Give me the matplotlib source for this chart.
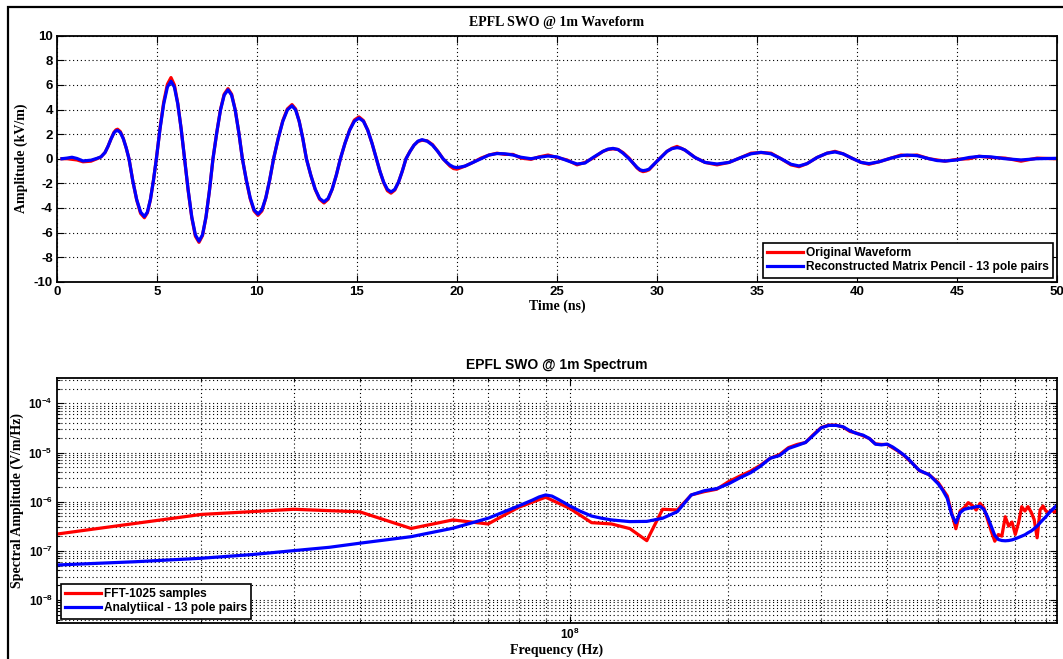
import numpy as np
import matplotlib
matplotlib.use("Agg")
import matplotlib.pyplot as plt
from matplotlib.patches import Rectangle
from matplotlib.ticker import LogLocator, NullFormatter

plt.rcParams["axes.unicode_minus"] = False
plt.rcParams["mathtext.fontset"] = "custom"
plt.rcParams["mathtext.rm"] = "Liberation Sans:bold"
plt.rcParams["mathtext.bf"] = "Liberation Sans:bold"
plt.rcParams["mathtext.it"] = "Liberation Sans:bold"

# ---- waveform (ns, kV/m) ----
t = [0.25, 0.5, 0.75, 1.0, 1.3, 1.7, 2.0, 2.2, 2.4, 2.55, 2.7, 2.85, 2.95,
     3.03, 3.17, 3.315, 3.46, 3.6, 3.79, 3.985, 4.18,
     4.37, 4.52, 4.67, 4.82, 4.97, 5.15, 5.335, 5.52,
     5.7, 5.87, 6.04, 6.21, 6.38, 6.56, 6.74, 6.92,
     7.1, 7.275, 7.45, 7.625, 7.8, 7.99, 8.175, 8.36,
     8.55, 8.73, 8.91, 9.09, 9.27, 9.465, 9.66, 9.855,
     10.05, 10.245, 10.44, 10.635, 10.83, 11.06, 11.29, 11.52,
     11.75, 11.93, 12.11, 12.29, 12.47, 12.69, 12.91, 13.13,
     13.35, 13.555, 13.76, 13.965, 14.17, 14.4, 14.635, 14.87,
     15.1, 15.32, 15.535, 15.75, 15.97, 16.15, 16.335, 16.52,
     16.7, 16.89, 17.075, 17.26, 17.45, 17.65, 17.85, 18.05,
     18.25, 18.51, 18.775, 19.04, 19.3, 19.475, 19.65, 19.825,
     20.0, 20.4, 20.8, 21.2, 21.6, 22.0, 22.4, 22.8, 23.2, 23.7, 24.1, 24.55, 25.0,
     25.5, 26.0, 26.4, 26.8, 27.3, 27.55, 27.8, 28.05, 28.3, 28.6, 29.0, 29.15, 29.3,
     29.45, 29.6, 30.0, 30.5, 30.75, 31.0, 31.2, 31.4, 31.9, 32.4, 33.0, 33.6, 34.2,
     34.7, 35.2, 35.7, 36.2, 36.7, 37.1, 37.5, 38.0, 38.5, 38.9, 39.3, 39.8, 40.2,
     40.6, 41.1, 41.7, 42.2, 42.5, 43.0, 43.6, 44.0, 44.4, 45.0, 45.6, 46.1, 46.7,
     47.4, 48.2, 49.0, 49.9]
wave_rec = [0.0, 0.05, 0.12, 0.02, -0.18, -0.12, 0.03, 0.15, 0.5, 1.0, 1.6, 2.1, 2.27,
            2.3, 2.13, 1.63, 0.88, 0.0, -1.8, -3.32, -4.34,
            -4.7, -4.34, -3.32, -1.8, 0.0, 2.41, 4.45, 5.82,
            6.3, 5.82, 4.45, 2.41, 0.0, -2.56, -4.74, -6.19,
            -6.7, -6.19, -4.74, -2.56, 0.0, 2.14, 3.96, 5.17,
            5.6, 5.17, 3.96, 2.14, 0.0, -1.72, -3.18, -4.16,
            -4.5, -4.16, -3.18, -1.72, 0.0, 1.65, 3.04, 3.97,
            4.3, 3.97, 3.04, 1.65, 0.0, -1.34, -2.47, -3.23,
            -3.5, -3.23, -2.47, -1.34, 0.0, 1.26, 2.33, 3.05,
            3.3, 3.05, 2.33, 1.26, 0.0, -1.03, -1.91, -2.49,
            -2.7, -2.49, -1.91, -1.03, 0.0, 0.59, 1.1, 1.43,
            1.55, 1.43, 1.1, 0.59, 0.0, -0.28, -0.52, -0.67,
            -0.73, -0.6, -0.3, 0.0, 0.3, 0.42, 0.4, 0.3, 0.12, 0.0, 0.12, 0.22, 0.15,
            -0.15, -0.43, -0.35, 0.1, 0.6, 0.78, 0.84, 0.75, 0.45, 0.0, -0.7, -0.9, -0.97,
            -0.93, -0.85, -0.2, 0.6, 0.82, 0.9, 0.85, 0.7, 0.1, -0.3, -0.43, -0.3, 0.1,
            0.4, 0.52, 0.4, 0.0, -0.45, -0.59, -0.4, 0.1, 0.45, 0.55, 0.4, 0.0, -0.3,
            -0.4, -0.25, 0.05, 0.25, 0.3, 0.25, 0.0, -0.15, -0.19, -0.1, 0.1, 0.19, 0.15,
            0.0, -0.1, 0.0, 0.03]
wave_orig = [0.0, 0.0, -0.05, -0.1, -0.25, -0.2, 0.0, 0.15, 0.5, 1.0, 1.6, 2.15, 2.35,
             2.4, 2.2, 1.65, 0.88, 0.0, -1.8, -3.35, -4.45,
             -4.8, -4.4, -3.35, -1.8, 0.0, 2.45, 4.6, 6.05,
             6.6, 6.0, 4.5, 2.4, 0.0, -2.6, -4.8, -6.3,
             -6.8, -6.25, -4.75, -2.56, 0.0, 2.14, 4.0, 5.25,
             5.7, 5.25, 4.0, 2.14, 0.0, -1.75, -3.25, -4.25,
             -4.6, -4.25, -3.2, -1.72, 0.0, 1.65, 3.1, 4.05,
             4.4, 4.05, 3.04, 1.65, 0.0, -1.34, -2.5, -3.3,
             -3.6, -3.3, -2.47, -1.34, 0.0, 1.26, 2.35, 3.15,
             3.4, 3.1, 2.33, 1.26, 0.0, -1.05, -1.95, -2.6,
             -2.8, -2.55, -1.91, -1.03, 0.0, 0.6, 1.1, 1.4,
             1.5, 1.45, 1.15, 0.6, 0.0, -0.3, -0.6, -0.8,
             -0.85, -0.6, -0.3, 0.05, 0.3, 0.45, 0.35, 0.35, 0.05, -0.05, 0.15, 0.3, 0.1,
             -0.1, -0.5, -0.3, 0.05, 0.6, 0.75, 0.8, 0.75, 0.5, 0.05, -0.75, -0.95, -1.05,
             -1.0, -0.9, -0.2, 0.6, 0.85, 1.0, 0.85, 0.7, 0.1, -0.3, -0.5, -0.3, 0.1,
             0.45, 0.5, 0.45, 0.0, -0.5, -0.65, -0.4, 0.1, 0.45, 0.6, 0.4, 0.0, -0.3,
             -0.45, -0.25, 0.05, 0.3, 0.25, 0.3, 0.0, -0.1, -0.2, -0.05, 0.0, 0.2, 0.1,
             0.05, -0.2, 0.05, 0.0]

# ---- spectrum (Hz, V/m/Hz) ----
f_fft = [1e7, 2e7, 3e7, 4e7, 5e7, 6e7, 7e7, 8e7, 9e7, 1.0e8, 1.1e8, 1.2e8, 1.3e8, 1.4e8,
         1.5e8, 1.6e8, 1.7e8, 1.8e8, 1.9e8, 2.0e8, 2.1e8, 2.2e8, 2.3e8, 2.4e8, 2.5e8, 2.6e8,
         2.7e8, 2.8e8, 2.9e8, 3.0e8, 3.1e8, 3.2e8, 3.3e8, 3.4e8, 3.5e8, 3.6e8, 3.7e8, 3.8e8,
         3.9e8, 4.0e8, 4.1e8, 4.2e8, 4.3e8, 4.4e8, 4.5e8, 4.6e8, 4.7e8, 4.8e8, 4.9e8, 5.0e8,
         5.1e8, 5.2e8, 5.3e8, 5.4e8, 5.5e8, 5.6e8, 5.7e8, 5.8e8, 5.9e8, 6.0e8, 6.1e8, 6.2e8,
         6.3e8, 6.4e8, 6.5e8, 6.6e8, 6.7e8, 6.8e8, 6.9e8, 7.0e8, 7.1e8, 7.2e8, 7.3e8, 7.4e8,
         7.5e8, 7.6e8, 7.7e8, 7.8e8, 7.9e8, 8.0e8, 8.1e8, 8.2e8, 8.3e8, 8.4e8]
s_fft = [2.0e-7, 5.5e-7, 7.0e-7, 6.2e-7, 2.85e-7, 4.25e-7, 3.52e-7, 7.7e-7, 1.23e-6, 7.3e-7,
         3.74e-7, 3.52e-7, 2.83e-7, 1.61e-7, 7.0e-7, 6.78e-7, 1.37e-6, 1.6e-6, 1.79e-6, 2.55e-6,
         3.3e-6, 4.16e-6, 5.51e-6, 7.66e-6, 9.1e-6, 1.26e-5, 1.46e-5, 1.6e-5, 2.33e-5, 3.24e-5,
         3.61e-5, 3.61e-5, 3.29e-5, 2.68e-5, 2.48e-5, 2.19e-5, 1.93e-5, 1.5e-5, 1.46e-5, 1.46e-5,
         1.24e-5, 1.06e-5, 8.8e-6, 6.97e-6, 5.6e-6, 4.29e-6, 3.91e-6, 3.56e-6, 2.95e-6, 2.44e-6,
         1.78e-6, 1.31e-6, 5.97e-7, 2.81e-7, 6.46e-7, 7.55e-7, 9.55e-7, 8.42e-7, 6.76e-7, 9.25e-7,
         7.55e-7, 4.36e-7, 2.52e-7, 1.57e-7, 2.15e-7, 1.99e-7, 4.94e-7, 3.18e-7, 3.85e-7, 2.15e-7,
         3.72e-7, 7.91e-7, 6.46e-7, 7.91e-7, 6.15e-7, 4.36e-7, 1.84e-7, 6.76e-7, 8.17e-7, 6.46e-7,
         5.97e-7, 6.76e-7, 6.15e-7, 6.46e-7]

f_ana = [1e7, 1.5e7, 2e7, 2.5e7, 3e7, 3.5e7, 4e7, 5e7, 6e7, 7e7, 8e7, 8.5e7, 8.75e7, 9e7,
         9.25e7, 9.5e7, 9.75e7, 1.0e8, 1.05e8, 1.1e8, 1.15e8, 1.2e8, 1.3e8, 1.4e8, 1.5e8,
         1.6e8, 1.7e8, 1.8e8, 1.9e8, 2.0e8, 2.1e8,
         2.2e8, 2.3e8, 2.4e8, 2.5e8, 2.6e8, 2.7e8, 2.8e8, 2.9e8, 3.0e8, 3.1e8, 3.2e8, 3.3e8,
         3.4e8, 3.5e8, 3.6e8, 3.7e8, 3.8e8, 3.9e8, 4.0e8, 4.1e8, 4.2e8, 4.3e8, 4.4e8, 4.5e8,
         4.6e8, 4.7e8, 4.8e8, 4.9e8, 5.0e8, 5.1e8, 5.2e8, 5.3e8, 5.4e8, 5.5e8, 5.6e8, 5.7e8,
         5.8e8, 5.9e8, 6.0e8, 6.1e8, 6.2e8, 6.3e8, 6.4e8, 6.5e8, 6.6e8, 6.7e8, 6.8e8, 6.9e8,
         7.0e8, 7.1e8, 7.2e8, 7.3e8, 7.4e8, 7.5e8, 7.6e8, 7.7e8, 7.8e8, 7.9e8, 8.0e8, 8.1e8,
         8.2e8, 8.3e8, 8.4e8]
s_ana = [5.0e-8, 6.0e-8, 7.06e-8, 8.4e-8, 1.01e-7, 1.18e-7, 1.43e-7, 1.94e-7, 2.88e-7, 4.6e-7,
         8.2e-7, 1.08e-6, 1.25e-6, 1.37e-6, 1.3e-6, 1.12e-6, 9.6e-7, 8.2e-7, 6.3e-7, 5.1e-7,
         4.6e-7, 4.25e-7, 3.93e-7, 3.97e-7, 4.6e-7,
         6.27e-7, 1.37e-6, 1.67e-6, 1.84e-6, 2.3e-6, 3.04e-6, 3.85e-6, 5.26e-6, 7.66e-6, 8.68e-6,
         1.21e-5, 1.39e-5, 1.6e-5, 2.26e-5, 3.19e-5, 3.56e-5, 3.56e-5, 3.34e-5, 2.77e-5, 2.44e-5,
         2.26e-5, 1.93e-5, 1.48e-5, 1.43e-5, 1.48e-5, 1.29e-5, 1.08e-5, 8.96e-6, 7.19e-6, 5.51e-6,
         4.36e-6, 3.91e-6, 3.56e-6, 2.86e-6, 2.3e-6, 1.7e-6, 1.17e-6, 5.51e-7, 3.72e-7, 5.97e-7,
         6.98e-7, 7.31e-7, 7.55e-7, 7.91e-7, 8.04e-7, 6.98e-7, 4.94e-7, 3.18e-7, 2.06e-7, 1.7e-7,
         1.62e-7, 1.6e-7, 1.62e-7, 1.67e-7, 1.76e-7, 1.87e-7, 1.99e-7, 2.12e-7, 2.33e-7, 2.52e-7,
         2.81e-7, 3.18e-7, 3.72e-7, 4.3e-7, 4.94e-7, 5.78e-7, 6.65e-7, 7.55e-7, 8.42e-7]

serif = "Liberation Serif"
sans = "Liberation Sans"
grid_kw = dict(color="black", linestyle=(0, (1, 2.5)), linewidth=0.8)
leg_kw = dict(prop={"family": sans, "weight": "bold", "size": 8.6}, fancybox=False,
              framealpha=1, edgecolor="black", handlelength=3.0, borderaxespad=0.35,
              borderpad=0.35, labelspacing=0.22, handletextpad=0.25)

fig = plt.figure(figsize=(10.63, 6.59), dpi=100)
fig.add_artist(Rectangle((0.0075, -0.1), 1.2, 1.1 - 0.0106, fill=False,
                         edgecolor="black", linewidth=1.6, transform=fig.transFigure))

ax1 = fig.add_axes([0.0536, 0.5725, 0.9408, 0.3733])
ax1.plot(t, wave_orig, color="red", lw=2.3, label="Original Waveform")
ax1.plot(t, wave_rec, color="blue", lw=2.3, label="Reconstructed Matrix Pencil - 13 pole pairs")
ax1.set_xlim(0, 50)
ax1.set_ylim(-10, 10)
ax1.set_xticks(np.arange(0, 51, 5))
ax1.set_yticks(np.arange(-10, 11, 2))
ax1.grid(True, **grid_kw)
ax1.set_title("EPFL SWO @ 1m Waveform", fontfamily=serif, fontweight="bold", fontsize=10, pad=7)
ax1.set_xlabel("Time (ns)", fontfamily=serif, fontweight="bold", fontsize=10, labelpad=1)
ax1.set_ylabel("Amplitude (kV/m)", fontfamily=serif, fontweight="bold", fontsize=10)
ax1.yaxis.set_label_coords(-0.029, 0.5)
leg1 = ax1.legend(loc="lower right", **leg_kw)
leg1.get_frame().set_linewidth(1.2)

ax2 = fig.add_axes([0.0536, 0.0551, 0.9408, 0.3709])
ax2.loglog(f_fft, s_fft, color="red", lw=2.3, label="FFT-1025 samples")
ax2.loglog(f_ana, s_ana, color="blue", lw=2.3, label="Analytiical - 13 pole pairs")
ax2.set_xlim(1.065e7, 8.4e8)
ax2.set_ylim(3.45e-9, 3.24e-4)
ax2.xaxis.set_minor_locator(LogLocator(base=10, subs=np.arange(2, 10)))
ax2.yaxis.set_minor_locator(LogLocator(base=10, subs=np.arange(2, 10)))
ax2.xaxis.set_minor_formatter(NullFormatter())
ax2.yaxis.set_minor_formatter(NullFormatter())
ax2.grid(True, which="both", **grid_kw)
ax2.set_title("EPFL SWO @ 1m Spectrum", fontfamily=sans, fontweight="bold", fontsize=10, pad=7)
ax2.set_xlabel("Frequency (Hz)", fontfamily=serif, fontweight="bold", fontsize=10, labelpad=1)
ax2.set_ylabel("Spectral Amplitude (V/m/Hz)", fontfamily=serif, fontweight="bold", fontsize=10)
ax2.yaxis.set_label_coords(-0.033, 0.5)
leg2 = ax2.legend(loc="lower left", **leg_kw)
leg2.get_frame().set_linewidth(1.2)

for ax in (ax1, ax2):
    ax.tick_params(which="both", direction="in", top=True, right=True, width=0.8)
    ax.tick_params(which="major", length=5, labelsize=9.5, pad=3)
    ax.tick_params(which="minor", length=2.5)
    for lab in ax.get_xticklabels() + ax.get_yticklabels():
        lab.set_fontfamily(sans)
        lab.set_fontweight("bold")
    for sp in ax.spines.values():
        sp.set_linewidth(1.3)
ax2.tick_params(which="major", labelsize=8.5)

fig.savefig("out.png", dpi=100)
